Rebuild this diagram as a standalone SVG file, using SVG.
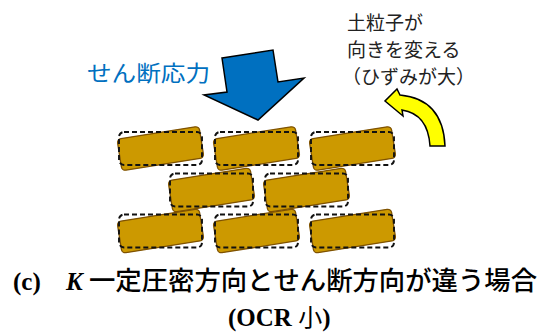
<svg xmlns="http://www.w3.org/2000/svg" width="560" height="335" viewBox="0 0 560 335">
  <style>
    .grain { fill: #CC9900; stroke: #7F5200; stroke-width: 1.3; }
    .outline { fill: none; stroke: #111; stroke-width: 1.9; stroke-dasharray: 5 3; }
    .jp { font-family: "Noto Sans CJK JP", "Noto Sans", sans-serif; }
    .note { font-size: 19px; fill: #222; }
    .cap { font-family: "Liberation Serif", "Noto Sans CJK JP", serif; font-weight: bold; font-size: 25px; fill: #000; }
  </style>
  <defs>
    <!-- one soil grain: tilted solid body plus its original (dashed) outline -->
    <g id="grain">
      <rect class="grain" x="-41.5" y="-16" width="83" height="32" rx="4" transform="rotate(-9)"/>
      <rect class="outline" x="-41.5" y="-16.5" width="83" height="33" rx="5"/>
    </g>
  </defs>
  <rect width="560" height="335" fill="#fff"/>

  <!-- shear stress label and arrow -->
  <g id="shear-label">
    <text class="jp" x="87" y="81" font-size="22" fill="#0070C0" textLength="123" lengthAdjust="spacingAndGlyphs">せん断応力</text>
  </g>
  <g id="shear-arrow">
    <polygon points="222,58 273,50 278,82 304,78 258,120 204,95 227,92" fill="#0070C0" stroke="#000" stroke-width="1.5" stroke-linejoin="miter"/>
  </g>

  <!-- rotation note and curved arrow -->
  <g id="rotation-note" class="jp note">
    <text x="347" y="30">土粒子が</text>
    <text x="347" y="57">向きを変える</text>
    <text x="342" y="84">（ひずみが大）</text>
  </g>
  <g id="rotation-arrow">
    <path d="M445,146 L430,146 Q428,114 402,110 L403,116 L385,101 L397,89 L400,95 Q443,99 445,146 Z" fill="#FFFF00" stroke="#000" stroke-width="1.5" stroke-linejoin="miter"/>
  </g>

  <!-- grains: top row -->
  <g id="grain-t1"><use href="#grain" x="160.5" y="148.5"/></g>
  <g id="grain-t2"><use href="#grain" x="256.5" y="148.5"/></g>
  <g id="grain-t3"><use href="#grain" x="352.5" y="148.5"/></g>
  <!-- middle row -->
  <g id="grain-m1"><use href="#grain" x="211.5" y="190"/></g>
  <g id="grain-m2"><use href="#grain" x="306.5" y="190"/></g>
  <!-- bottom row -->
  <g id="grain-b1"><use href="#grain" x="160.5" y="231"/></g>
  <g id="grain-b2"><use href="#grain" x="256.5" y="231"/></g>
  <g id="grain-b3"><use href="#grain" x="352.5" y="231"/></g>

  <!-- caption -->
  <g id="caption">
    <text class="cap" x="13" y="290">(c)</text>
    <text class="cap" x="66" y="290" font-style="italic">K</text>
    <text class="jp" x="89" y="290" font-size="26" font-weight="500" fill="#000" textLength="448" lengthAdjust="spacingAndGlyphs">一定圧密方向とせん断方向が違う場合</text>
    <text class="cap" x="228" y="326">(OCR <tspan class="jp" font-weight="normal" font-size="24">小</tspan>)</text>
  </g>
</svg>
